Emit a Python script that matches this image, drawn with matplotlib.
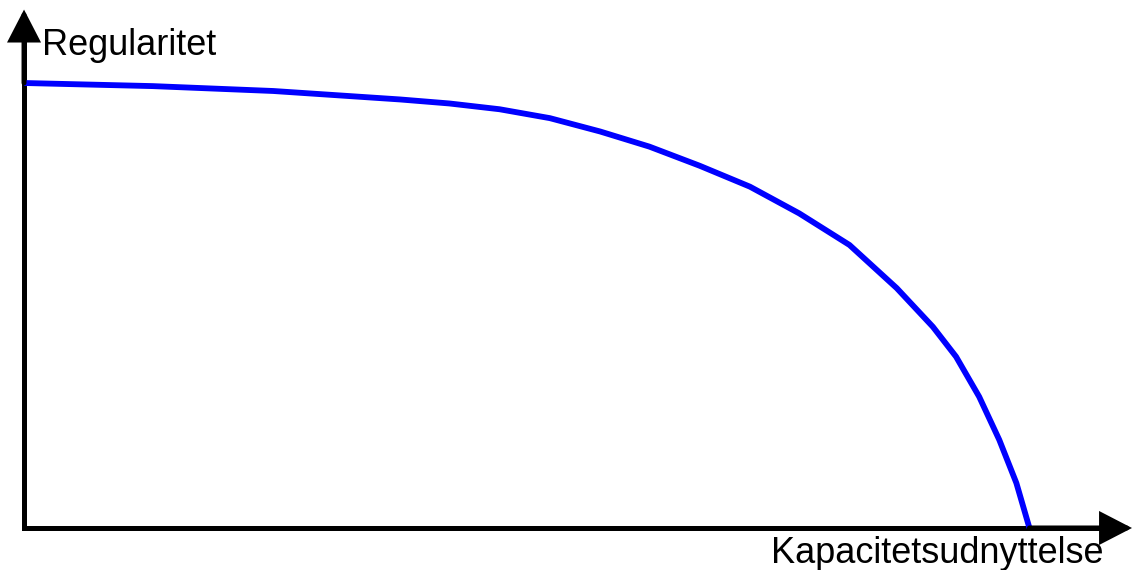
import matplotlib
matplotlib.use("Agg")
import matplotlib.pyplot as plt

plt.rcParams["font.family"] = ["Liberation Sans", "DejaVu Sans"]

# ── Data (% of max) ─────────────────────────────────────────────────────────
capacity = [0, 12.8, 24.8, 37.4, 42.3, 47.3, 52.3, 57.3, 62.2, 67.2,
            72.2, 77.1, 82.1, 86.8, 90.4, 92.7, 95.0, 97.0, 98.7, 100]
regularity = [100, 99.3, 98.2, 96.3, 95.4, 94.1, 92.1, 89.1, 85.7, 81.4,
              76.7, 70.7, 63.6, 53.9, 45.2, 38.5, 29.5, 19.8, 10.1, 0]
x_label = "Kapacitetsudnyttelse"
y_label = "Regularitet"

fig = plt.figure(figsize=(11.32, 5.70), dpi=100)
ax = fig.add_axes([0, 0, 1, 1])
ax.set_xlim(-2.39, 110.2)
ax.set_ylim(-9.44, 118.65)
ax.axis("off")

# axes: one L-shaped line with a clean corner, then the arrow heads
ax.plot([0, 0, 108], [112, 0, 0], color="black", lw=3.6,
        solid_joinstyle="miter", solid_capstyle="butt")
arrow = dict(arrowstyle="-|>,head_length=1.2,head_width=0.62", lw=3.6,
             color="black", mutation_scale=15, shrinkA=0, shrinkB=0,
             joinstyle="miter")
ax.annotate("", xy=(110.2, 0), xytext=(100, 0), arrowprops=arrow)
ax.annotate("", xy=(0, 116.5), xytext=(0, 100), arrowprops=arrow)

ax.plot(capacity, regularity, color="#0000ff", lw=4.2,
        solid_capstyle="butt", solid_joinstyle="round")

ax.text(1.79, 106.3, y_label, fontsize=26, va="baseline", ha="left")
ax.text(74.25, -7.87, x_label, fontsize=26, va="baseline", ha="left")

fig.savefig("out.png", dpi=100)
